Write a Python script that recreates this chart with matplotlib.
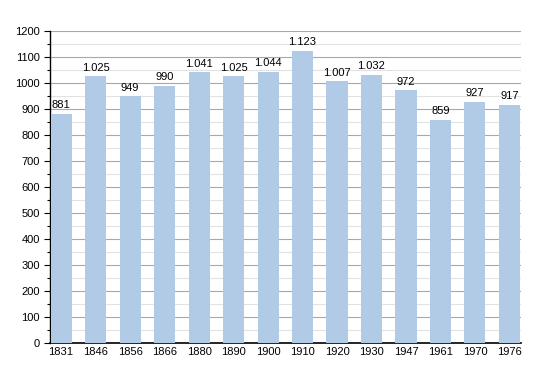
import matplotlib.pyplot as plt
from matplotlib.ticker import MultipleLocator

# ── Data ─────────────────────────────────────────────────────────────────────
YEARS = ["1831", "1846", "1856", "1866", "1880", "1890", "1900",
         "1910", "1920", "1930", "1947", "1961", "1970", "1976"]
POPULATION = [881, 1025, 949, 990, 1041, 1025, 1044,
              1123, 1007, 1032, 972, 859, 927, 917]

BAR_COLOR = "#b1cbe6"

plt.rcParams["font.family"] = ["Liberation Sans", "DejaVu Sans"]

fig = plt.figure(figsize=(5.5, 3.73), dpi=100)
ax = fig.add_axes([0.091, 0.080, 0.856, 0.837])

xs = range(len(YEARS))
ax.bar(xs, POPULATION, width=0.61, color=BAR_COLOR, zorder=3)

for x, v in zip(xs, POPULATION):
    label = f"{v:,}".replace(",", ".")
    ax.text(x, v + 14, label, ha="center", va="bottom", fontsize=8, zorder=4)

ax.set_xlim(-0.32, 13.33)
ax.set_ylim(0, 1200)
ax.set_xticks(list(xs))
ax.set_xticklabels(YEARS, fontsize=8)
ax.yaxis.set_major_locator(MultipleLocator(100))
ax.yaxis.set_minor_locator(MultipleLocator(50))
ax.tick_params(axis="y", labelsize=8, length=4, width=0.8)
ax.tick_params(axis="y", which="minor", length=2.5, width=0.8)
ax.tick_params(axis="x", length=0, pad=3)

ax.grid(True, axis="y", which="major", color="#a8a8a8", linewidth=0.8, zorder=0)
ax.grid(True, axis="y", which="minor", color="#e2e2e2", linewidth=0.8, zorder=0)

ax.spines["top"].set_visible(False)
ax.spines["right"].set_visible(False)
ax.spines["left"].set_linewidth(1.0)
ax.spines["bottom"].set_linewidth(1.2)

fig.savefig("out.png", dpi=100)
